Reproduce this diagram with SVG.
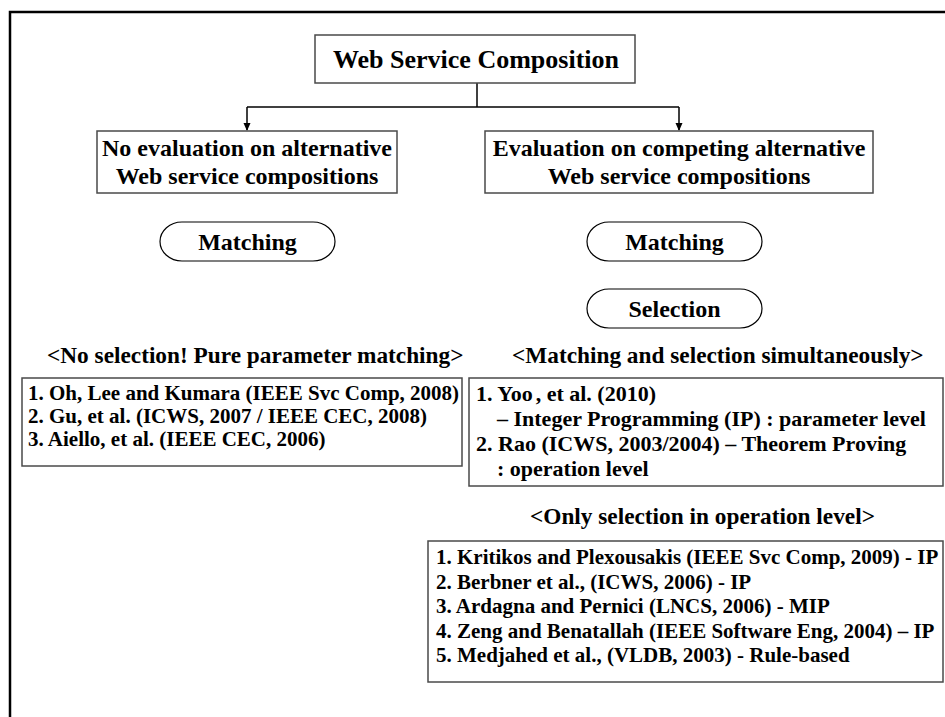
<svg xmlns="http://www.w3.org/2000/svg" width="945" height="717" viewBox="0 0 945 717">
  <defs>
    <style>
      text { font-family: "Liberation Serif", "Times New Roman", serif; font-weight: bold; fill: #000; }
      .t26 { font-size: 26px; }
      .t24 { font-size: 24px; }
      .hd { font-size: 23.3px; }
      .t22 { font-size: 22px; }
      .t21 { font-size: 21px; }
      .mid { text-anchor: middle; }
      .box { fill: #fff; stroke: #4a4a4a; stroke-width: 1.5; }
      .pill { fill: #fff; stroke: #000; stroke-width: 1.2; }
      .wire { fill: none; stroke: #000; stroke-width: 1.5; }
      .frame { fill: none; stroke: #000; stroke-width: 2.5; }
    </style>
    <marker id="arrow" markerWidth="8" markerHeight="8" refX="7" refY="4" orient="auto" markerUnits="userSpaceOnUse">
      <path d="M0,0.5 L8,4 L0,7.5 Z" fill="#000"/>
    </marker>
  </defs>

  <rect width="945" height="717" fill="#fff"/>

  <!-- outer frame: top and left edges only -->
  <path class="frame" d="M10,717 V12 H945"/>

  <!-- tree connectors -->
  <g id="connectors">
    <path class="wire" d="M477,83 V107"/>
    <path class="wire" d="M247,107 H679"/>
    <path class="wire" d="M247,107 V130" marker-end="url(#arrow)"/>
    <path class="wire" d="M679,107 V130" marker-end="url(#arrow)"/>
  </g>

  <g id="root">
    <rect class="box" x="315" y="35" width="320" height="48"/>
    <text class="t26 mid" x="476" y="68">Web Service Composition</text>
  </g>

  <g id="no-evaluation">
    <rect class="box" x="97" y="131" width="300" height="62"/>
    <text class="t24 mid" x="247" y="156">No evaluation on alternative</text>
    <text class="t24 mid" x="247" y="184">Web service compositions</text>
  </g>

  <g id="evaluation">
    <rect class="box" x="485" y="131" width="388" height="62"/>
    <text class="t24 mid" x="679" y="156">Evaluation on competing alternative</text>
    <text class="t24 mid" x="679" y="184">Web service compositions</text>
  </g>

  <g id="matching-left">
    <rect class="pill" x="160" y="222" width="175" height="39" rx="22" ry="19.5"/>
    <text class="t24 mid" x="247.5" y="250">Matching</text>
  </g>

  <g id="matching-right">
    <rect class="pill" x="587" y="222" width="175" height="39" rx="22" ry="19.5"/>
    <text class="t24 mid" x="674.5" y="250">Matching</text>
  </g>

  <g id="selection">
    <rect class="pill" x="587" y="289" width="175" height="39" rx="22" ry="19.5"/>
    <text class="t24 mid" x="674.5" y="317">Selection</text>
  </g>

  <g id="pure-matching">
    <text class="hd" x="47" y="363">&lt;No selection! Pure parameter matching&gt;</text>
    <rect class="box" x="22" y="378" width="440" height="88"/>
    <text class="t21" x="28" y="400">1. Oh, Lee and Kumara (IEEE Svc Comp, 2008)</text>
    <text class="t21" x="28" y="423">2. Gu, et al. (ICWS, 2007 / IEEE CEC, 2008)</text>
    <text class="t21" x="28" y="446">3. Aiello, et al. (IEEE CEC, 2006)</text>
  </g>

  <g id="simultaneous">
    <text class="hd" x="512" y="363">&lt;Matching and selection simultaneously&gt;</text>
    <rect class="box" x="469" y="378" width="474" height="108"/>
    <text class="t22" x="476" y="401">1. Yoo<tspan dx="3">, et al. (2010)</tspan></text>
    <text class="t22" x="497" y="426">– Integer Programming (IP) : parameter level</text>
    <text class="t22" x="476" y="451">2. Rao (ICWS, 2003/2004) – Theorem Proving</text>
    <text class="t22" x="497" y="476">: operation level</text>
  </g>

  <g id="operation-level">
    <text class="hd" x="530" y="524">&lt;Only selection in operation level&gt;</text>
    <rect class="box" x="428" y="541" width="515" height="141"/>
    <text class="t21" x="436" y="564">1. Kritikos and Plexousakis (IEEE Svc Comp, 2009) - IP</text>
    <text class="t21" x="436" y="589">2. Berbner et al., (ICWS, 2006) - IP</text>
    <text class="t21" x="436" y="613">3. Ardagna and Pernici (LNCS, 2006) - MIP</text>
    <text class="t21" x="436" y="638">4. Zeng and Benatallah (IEEE Software Eng, 2004) – IP</text>
    <text class="t21" x="436" y="662">5. Medjahed et al., (VLDB, 2003) - Rule-based</text>
  </g>
</svg>
